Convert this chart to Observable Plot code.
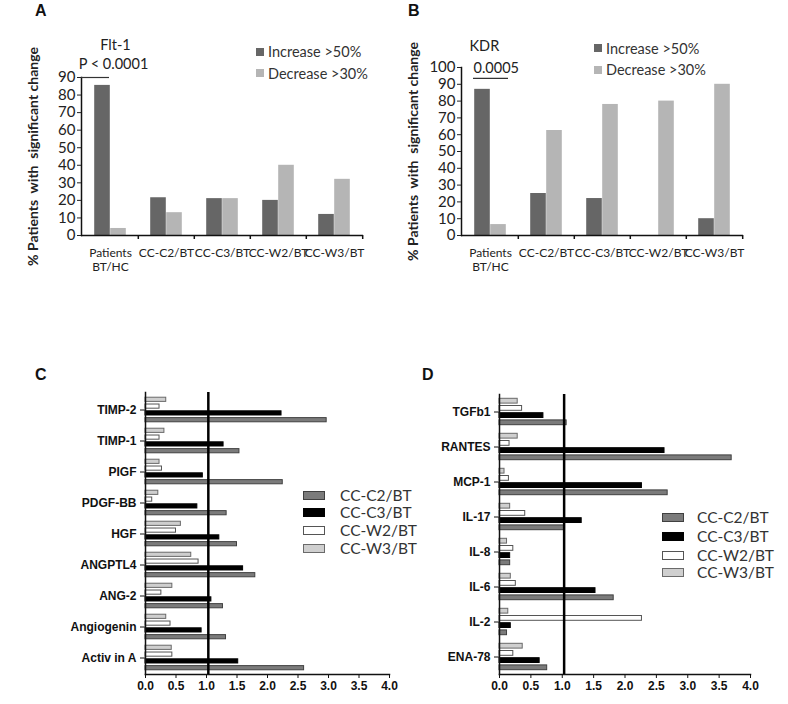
<!DOCTYPE html>
<html><head><meta charset="utf-8">
<script src="https://cdn.jsdelivr.net/npm/d3@7"></script>
<script src="https://cdn.jsdelivr.net/npm/@observablehq/plot@0.6"></script>
<style>
body{margin:0;background:#fff;}
#root{position:relative;width:788px;height:704px;overflow:hidden;font-family:Lato,"Open Sans",sans-serif;color:#222;}
.letter{position:absolute;font:bold 16px "Liberation Sans",Arial,sans-serif;color:#111;}
.leg{position:absolute;display:flex;align-items:center;white-space:nowrap;font-family:Lato,sans-serif;color:#333;}
.sw{display:inline-block;box-sizing:border-box;}
</style></head><body><div id="root"></div>
<script>
// ---- data: panels A & B ----
const abGroups = ["Patients\nBT/HC", "CC-C2/BT", "CC-C3/BT", "CC-W2/BT", "CC-W3/BT"];
const abSeries = ["Increase >50%", "Decrease >30%"];
const fltIncrease = [85.5, 21.5, 21, 20, 12];
const fltDecrease = [4, 13, 21, 40, 32];
const kdrIncrease = [87, 25, 22, 0, 10];
const kdrDecrease = [6.5, 62.5, 78, 80, 90];
const fltYTicks = [0, 10, 20, 30, 40, 50, 60, 70, 80, 90];
const kdrYTicks = [0, 10, 20, 30, 40, 50, 60, 70, 80, 90, 100];
const fltTitle = "Flt-1", fltP = "P < 0.0001", fltBar = 90;
const kdrTitle = "KDR", kdrP = "0.0005", kdrBar = 93.5;
const yLabelAB = "% Patients  with  significant change";

// ---- data: panels C & D ----
const cdSeries = ["CC-C2/BT", "CC-C3/BT", "CC-W2/BT", "CC-W3/BT"];
const cFactors = ["TIMP-2", "TIMP-1", "PIGF", "PDGF-BB", "HGF", "ANGPTL4", "ANG-2", "Angiogenin", "Activ in A"];
const cC2 = [2.97, 1.54, 2.25, 1.33, 1.50, 1.80, 1.27, 1.32, 2.60];
const cC3 = [2.23, 1.28, 0.94, 0.85, 1.21, 1.60, 1.08, 0.92, 1.52];
const cW2 = [0.23, 0.23, 0.27, 0.11, 0.50, 0.87, 0.26, 0.41, 0.44];
const cW3 = [0.34, 0.31, 0.23, 0.21, 0.58, 0.75, 0.44, 0.34, 0.43];
const dFactors = ["TGFb1", "RANTES", "MCP-1", "IL-17", "IL-8", "IL-6", "IL-2", "ENA-78"];
const dC2 = [1.07, 3.70, 2.68, 1.03, 0.17, 1.82, 0.12, 0.76];
const dC3 = [0.70, 2.63, 2.27, 1.31, 0.17, 1.53, 0.18, 0.64];
const dW2 = [0.36, 0.16, 0.15, 0.41, 0.22, 0.26, 2.27, 0.22];
const dW3 = [0.29, 0.29, 0.08, 0.17, 0.12, 0.18, 0.14, 0.37];
const ratioTicks = [0, 0.5, 1, 1.5, 2, 2.5, 3, 3.5, 4];
const refRatio = 1.03;

// ---- styles ----
const abColors = {"Increase >50%": "#666666", "Decrease >30%": "#b5b5b5"};
const cdFill = {"CC-C2/BT": "#7b7b7b", "CC-C3/BT": "#000000", "CC-W2/BT": "#ffffff", "CC-W3/BT": "#cfcfcf"};
const cdStroke = {"CC-C2/BT": "#404040", "CC-C3/BT": "#000000", "CC-W2/BT": "#555555", "CC-W3/BT": "#6a6a6a"};

const root = document.getElementById("root");
function place(el, left, top) { el.style.position = "absolute"; el.style.left = left + "px"; el.style.top = top + "px"; root.appendChild(el); }
function letter(t, left, top) { const d = document.createElement("div"); d.className = "letter"; d.textContent = t; d.style.left = left + "px"; d.style.top = top + "px"; root.appendChild(d); }

function groupedPanel({inc, dec, yMax, yTicks, left, top, width, height, ml, mr, mt, mb, annot}) {
  const rows = [];
  abGroups.forEach((g, i) => { rows.push({g, s: abSeries[0], v: inc[i]}); rows.push({g, s: abSeries[1], v: dec[i]}); });
  const fw = width - ml - mr, fh = height - mt - mb;
  const step = fw / abGroups.length, bw = 16;
  const tickLen = 4 * yMax / fh;
  const svg = Plot.plot({
    width, height, marginLeft: ml, marginRight: mr, marginTop: mt, marginBottom: mb,
    style: {fontFamily: "Lato, sans-serif", fontSize: "14px", color: "#222", background: "transparent", overflow: "visible"},
    x: {domain: abGroups, padding: 0},
    y: {domain: [0, yMax]},
    marks: [
      Plot.barY(rows.filter(d => d.s === abSeries[0]), {x: "g", y: "v", fill: abColors[abSeries[0]], insetLeft: step / 2 - bw, insetRight: step / 2}),
      Plot.barY(rows.filter(d => d.s === abSeries[1]), {x: "g", y: "v", fill: abColors[abSeries[1]], insetLeft: step / 2, insetRight: step / 2 - bw}),
      Plot.ruleY([0], {stroke: "#111", strokeWidth: 1.5}),
      Plot.ruleX(abGroups.slice(1), {x: d => d, dx: -step / 2, y1: 0, y2: -tickLen, stroke: "#111", strokeWidth: 1.5}),
      Plot.ruleX(abGroups.slice(-1), {x: d => d, dx: step / 2, y1: 0, y2: -tickLen, stroke: "#111", strokeWidth: 1.5}),
      Plot.frame({anchor: "left", stroke: "#111", strokeWidth: 1.5}),
      Plot.axisY({ticks: yTicks, tickSize: 4, tickPadding: 2, label: null, fontSize: 15}),
      Plot.axisX({tickSize: 0, tickPadding: 11, label: null, lineHeight: 1.2, fontSize: 12}),
      Plot.text([yLabelAB], {frameAnchor: "left", textAnchor: "middle", lineAnchor: "middle", rotate: -90, dx: -48, fontWeight: "bold", fontSize: 14}),
      Plot.ruleY([annot.bar], {stroke: "#333", strokeWidth: 1.2, insetLeft: annot.barL, insetRight: fw - annot.barR}),
      Plot.text([annot.title], {frameAnchor: "top-left", textAnchor: annot.textAnchor, lineAnchor: "middle", dx: annot.titleDx, dy: annot.titleDy, fontSize: 14.5}),
      Plot.text([annot.p], {frameAnchor: "top-left", textAnchor: annot.textAnchor, lineAnchor: "middle", dx: annot.pDx, dy: annot.pDy, fontSize: 14.5})
    ]
  });
  place(svg, left, top);
}

function legendAB(left, tops) {
  abSeries.forEach((s, i) => {
    const d = document.createElement("div"); d.className = "leg"; d.style.fontSize = "14.5px";
    d.style.left = left + "px"; d.style.top = (tops[i] - 10) + "px"; d.style.height = "20px";
    d.innerHTML = `<span class="sw" style="width:8px;height:8px;background:${abColors[s]};margin-right:4px"></span><span>${s}</span>`;
    root.appendChild(d);
  });
}

function hbarPanel({cats, vals, left, top, width, height, ml, mr, mt, mb, pitch, bh}) {
  const fh = height - mt - mb, step = fh / cats.length;
  const marks = [];
  cdSeries.forEach((s, k) => {
    const rows = cats.map((c, i) => ({c, v: vals[k][i]}));
    const o = (1.5 - k) * pitch;
    marks.push(Plot.barX(rows, {x: "v", y: "c", fill: cdFill[s], stroke: cdStroke[s], strokeWidth: 1,
      insetTop: step / 2 + o - bh / 2, insetBottom: step / 2 - o - bh / 2}));
  });
  const svg = Plot.plot({
    width, height, marginLeft: ml, marginRight: mr, marginTop: mt, marginBottom: mb,
    style: {fontFamily: "'Liberation Sans', Arial, sans-serif", fontSize: "12px", fontWeight: "bold", color: "#111", background: "transparent"},
    x: {domain: [0, 4]},
    y: {domain: cats, padding: 0},
    marks: [
      ...marks,
      Plot.frame({anchor: "left", stroke: "#111", strokeWidth: 1.5}),
      Plot.frame({anchor: "bottom", stroke: "#111", strokeWidth: 1.5}),
      Plot.ruleX([refRatio], {stroke: "#000", strokeWidth: 2.5}),
      Plot.axisY({tickSize: 5, tickPadding: 4, label: null}),
      Plot.axisX({ticks: ratioTicks, tickFormat: d3.format(".1f"), tickSize: 4, tickPadding: 3, label: null})
    ]
  });
  place(svg, left, top);
}

function legendCD(left, textLeft, tops) {
  cdSeries.forEach((s, i) => {
    const d = document.createElement("div"); d.className = "leg"; d.style.fontSize = "15.5px";
    d.style.left = left + "px"; d.style.top = (tops[i] - 10) + "px"; d.style.height = "20px";
    d.innerHTML = `<span class="sw" style="width:22px;height:9px;background:${cdFill[s]};border:1px solid ${cdStroke[s]};margin-right:${textLeft - left - 22}px"></span><span>${s}</span>`;
    root.appendChild(d);
  });
}

// Panel A
groupedPanel({inc: fltIncrease, dec: fltDecrease, yMax: 90, yTicks: fltYTicks, left: 0, top: 0, width: 390, height: 282,
  ml: 81, mr: 27, mt: 77, mb: 47,
  annot: {bar: fltBar, barL: 0, barR: 28, title: fltTitle, p: fltP, textAnchor: "middle", titleDx: 34, titleDy: -32, pDx: 32, pDy: -13}});
// Panel B
groupedPanel({inc: kdrIncrease, dec: kdrDecrease, yMax: 100, yTicks: kdrYTicks, left: 390, top: 0, width: 398, height: 282,
  ml: 71, mr: 45, mt: 67, mb: 47,
  annot: {bar: kdrBar, barL: 12, barR: 47, title: kdrTitle, p: kdrP, textAnchor: "start", titleDx: 8, titleDy: -21, pDx: 12, pDy: 1}});
legendAB(256, [51.5, 73]);
legendAB(594, [48, 69.5]);

// Panel C
hbarPanel({cats: cFactors, vals: [cC2, cC3, cW2, cW3], left: 0, top: 380, width: 400, height: 320,
  ml: 145, mr: 11, mt: 12, mb: 26, pitch: 6.8, bh: 4.5});
// Panel D
hbarPanel({cats: dFactors, vals: [dC2, dC3, dW2, dW3], left: 400, top: 380, width: 388, height: 320,
  ml: 99, mr: 38, mt: 14, mb: 26, pitch: 7.2, bh: 4.8});
legendCD(303, 340, [495, 512, 530, 548]);
legendCD(662, 697, [517, 536, 555, 572]);

letter("A", 35, 2);
letter("B", 408, 2);
letter("C", 35, 366);
letter("D", 422, 366);
</script></body></html>
